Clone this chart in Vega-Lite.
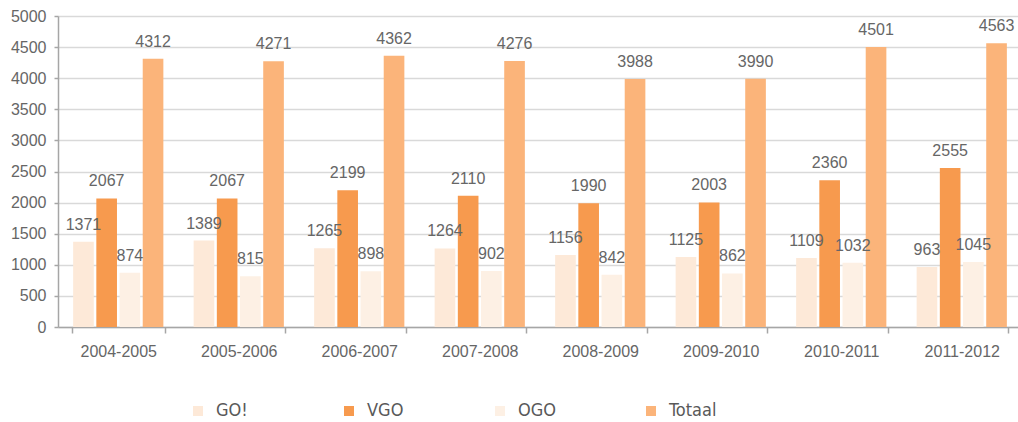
{
  "$schema": "https://vega.github.io/schema/vega-lite/v6.json",
  "width": 964,
  "height": 311,
  "autosize": {"type": "none"},
  "padding": {"left": 58, "top": 16, "right": 0, "bottom": 95},
  "background": "white",
  "config": {
    "view": {"stroke": null},
    "font": "Liberation Sans",
    "axis": {"labelFont": "Liberation Sans", "labelColor": "#666666", "labelFontSize": 16, "domainColor": "#a6a6a6", "domainWidth": 1.5, "tickColor": "#a6a6a6", "tickWidth": 1.5, "gridColor": "#d9d9d9", "gridWidth": 1.5}
  },
  "data": {
    "values": [
      {"jaar": "2004-2005", "net": "GO!", "n": 1371}, {"jaar": "2004-2005", "net": "VGO", "n": 2067}, {"jaar": "2004-2005", "net": "OGO", "n": 874}, {"jaar": "2004-2005", "net": "Totaal", "n": 4312},
      {"jaar": "2005-2006", "net": "GO!", "n": 1389}, {"jaar": "2005-2006", "net": "VGO", "n": 2067}, {"jaar": "2005-2006", "net": "OGO", "n": 815}, {"jaar": "2005-2006", "net": "Totaal", "n": 4271},
      {"jaar": "2006-2007", "net": "GO!", "n": 1265}, {"jaar": "2006-2007", "net": "VGO", "n": 2199}, {"jaar": "2006-2007", "net": "OGO", "n": 898}, {"jaar": "2006-2007", "net": "Totaal", "n": 4362},
      {"jaar": "2007-2008", "net": "GO!", "n": 1264}, {"jaar": "2007-2008", "net": "VGO", "n": 2110}, {"jaar": "2007-2008", "net": "OGO", "n": 902}, {"jaar": "2007-2008", "net": "Totaal", "n": 4276},
      {"jaar": "2008-2009", "net": "GO!", "n": 1156}, {"jaar": "2008-2009", "net": "VGO", "n": 1990}, {"jaar": "2008-2009", "net": "OGO", "n": 842}, {"jaar": "2008-2009", "net": "Totaal", "n": 3988},
      {"jaar": "2009-2010", "net": "GO!", "n": 1125}, {"jaar": "2009-2010", "net": "VGO", "n": 2003}, {"jaar": "2009-2010", "net": "OGO", "n": 862}, {"jaar": "2009-2010", "net": "Totaal", "n": 3990},
      {"jaar": "2010-2011", "net": "GO!", "n": 1109}, {"jaar": "2010-2011", "net": "VGO", "n": 2360}, {"jaar": "2010-2011", "net": "OGO", "n": 1032}, {"jaar": "2010-2011", "net": "Totaal", "n": 4501},
      {"jaar": "2011-2012", "net": "GO!", "n": 963}, {"jaar": "2011-2012", "net": "VGO", "n": 2555}, {"jaar": "2011-2012", "net": "OGO", "n": 1045}, {"jaar": "2011-2012", "net": "Totaal", "n": 4563}
    ]
  },
  "encoding": {
    "x": {"field": "jaar", "type": "nominal", "title": null, "sort": null,
      "scale": {"paddingInner": 0.23, "paddingOuter": 0.115},
      "axis": {"labelAngle": 0, "tickBand": "extent", "tickSize": 6, "labelPadding": 10, "grid": false}},
    "xOffset": {"field": "net", "type": "nominal", "sort": ["GO!", "VGO", "OGO", "Totaal"],
      "scale": {"paddingInner": 0.11, "paddingOuter": 0.055}},
    "y": {"field": "n", "type": "quantitative", "title": null,
      "scale": {"domain": [0, 5000], "nice": false},
      "axis": {"values": [0, 500, 1000, 1500, 2000, 2500, 3000, 3500, 4000, 4500, 5000], "format": "d", "tickSize": 4, "labelPadding": 8, "grid": true}}
  },
  "layer": [
    {
      "mark": {"type": "bar"},
      "encoding": {
        "color": {"field": "net", "type": "nominal", "sort": ["GO!", "VGO", "OGO", "Totaal"],
          "scale": {"domain": ["GO!", "VGO", "OGO", "Totaal"], "range": ["#fde9d8", "#f79a4e", "#fdf0e4", "#fbb47a"]},
          "legend": {"title": null, "orient": "none", "legendX": 131, "legendY": 386, "direction": "horizontal", "columns": 4, "gridAlign": "all", "columnPadding": 76, "padding": 0, "symbolType": "square", "symbolSize": 100, "symbolStrokeWidth": 0, "labelFont": "DejaVu Sans Condensed, Liberation Sans", "labelFontSize": 18, "labelColor": "#595959", "labelOffset": 9}}
      }
    },
    {
      "mark": {"type": "text", "baseline": "bottom", "dy": -9, "font": "Liberation Sans", "fontSize": 16, "color": "#666666"},
      "encoding": {"text": {"field": "n", "type": "quantitative"}}
    }
  ]
}
